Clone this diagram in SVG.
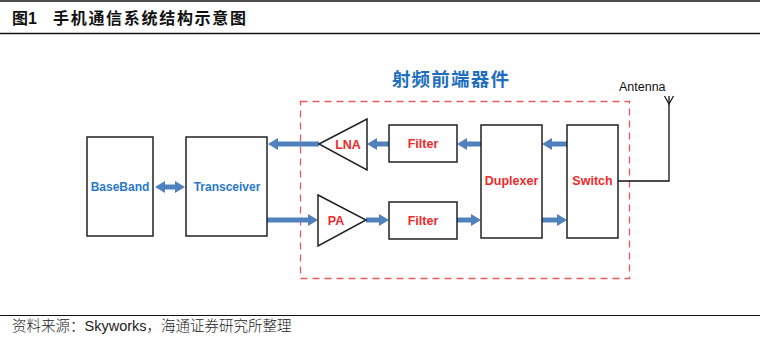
<svg xmlns="http://www.w3.org/2000/svg" width="760" height="338" viewBox="0 0 760 338">
<style>
.box{fill:#fff;stroke:#222;stroke-width:1.5}
.red{font-family:"Liberation Sans","Noto Sans",sans-serif;font-weight:bold;font-size:12.5px;fill:#ef2a2a;text-anchor:middle}
.blue{font-family:"Liberation Sans","Noto Sans",sans-serif;font-weight:bold;font-size:12px;fill:#2b78cc;text-anchor:middle}
.arr{stroke:#4f81bd;stroke-width:5;fill:none}
</style>
<defs>
<marker id="ah" markerUnits="userSpaceOnUse" markerWidth="10" markerHeight="12" refX="3" refY="6" orient="auto-start-reverse" viewBox="0 0 10 12">
<path d="M0,0 L10,6 L0,12 Z" fill="#4f81bd"/>
</marker>
</defs>
<rect width="760" height="338" fill="#fff"/>
<line x1="0" y1="1" x2="760" y2="1" stroke="#111" stroke-width="1.5"/>
<text x="12" y="24" font-family="'Noto Sans CJK SC','Liberation Sans',sans-serif" font-weight="bold" font-size="16" fill="#111">图<tspan font-family="'Liberation Sans',sans-serif">1</tspan><tspan x="53" letter-spacing="1.7">手机通信系统结构示意图</tspan></text>
<line x1="0" y1="33.5" x2="760" y2="33.5" stroke="#111" stroke-width="1.5"/>
<line x1="0" y1="315.5" x2="760" y2="315.5" stroke="#111" stroke-width="1"/>
<text x="12" y="331" font-family="'Liberation Sans','Noto Sans CJK SC',sans-serif" font-size="14.5" fill="#222"><tspan font-family="'Noto Sans CJK SC',sans-serif" font-weight="300">资料来源：</tspan>Skyworks<tspan font-family="'Noto Sans CJK SC',sans-serif" font-weight="300">，海通证券研究所整理</tspan></text>

<g id="frontend">
<rect x="300.5" y="101.5" width="329" height="177" fill="none" stroke="#e85a5a" stroke-width="1.3" stroke-dasharray="7,5"/>
<text x="451" y="86" font-family="'Noto Sans CJK SC',sans-serif" font-weight="bold" font-size="18.5" letter-spacing="1.2" fill="#1f6fc1" text-anchor="middle">射频前端器件</text>
</g>

<g id="connectors">
<line class="arr" x1="162" y1="187" x2="178" y2="187" marker-start="url(#ah)" marker-end="url(#ah)"/>
<line class="arr" x1="319" y1="144" x2="275" y2="144" marker-end="url(#ah)"/>
<line class="arr" x1="267" y1="220" x2="311" y2="220" marker-end="url(#ah)"/>
<line class="arr" x1="389" y1="144" x2="374" y2="144" marker-end="url(#ah)"/>
<line class="arr" x1="481" y1="144" x2="464" y2="144" marker-end="url(#ah)"/>
<line class="arr" x1="567" y1="144" x2="549" y2="144" marker-end="url(#ah)"/>
<line class="arr" x1="366" y1="220" x2="382" y2="220" marker-end="url(#ah)"/>
<line class="arr" x1="457" y1="220" x2="474" y2="220" marker-end="url(#ah)"/>
<line class="arr" x1="542" y1="220" x2="560" y2="220" marker-end="url(#ah)"/>
<polyline points="618,181 669,181 669,96" fill="none" stroke="#111" stroke-width="1.3"/>
</g>

<g id="antenna">
<path d="M664.5,96 L669,104 L673.5,96" fill="none" stroke="#111" stroke-width="1.2"/>
<text x="619" y="91" font-family="'Liberation Sans',sans-serif" font-size="12.5" fill="#111">Antenna</text>
</g>

<g id="baseband">
<rect class="box" x="87" y="137" width="66" height="99"/>
<text class="blue" x="120" y="191">BaseBand</text>
</g>
<g id="transceiver">
<rect class="box" x="186" y="137" width="81" height="99"/>
<text class="blue" x="227" y="191">Transceiver</text>
</g>
<g id="lna">
<polygon class="box" points="319,144 367,119 367,170"/>
<text class="red" x="348" y="149">LNA</text>
</g>
<g id="filter-rx">
<rect class="box" x="389" y="125" width="68" height="37"/>
<text class="red" x="423" y="148">Filter</text>
</g>
<g id="pa">
<polygon class="box" points="318,195 366,220 318,246"/>
<text class="red" x="336" y="225">PA</text>
</g>
<g id="filter-tx">
<rect class="box" x="389" y="202" width="68" height="37"/>
<text class="red" x="423" y="225">Filter</text>
</g>
<g id="duplexer">
<rect class="box" x="481" y="125" width="61" height="113"/>
<text class="red" x="511.5" y="185">Duplexer</text>
</g>
<g id="switch">
<rect class="box" x="567" y="125" width="51" height="113"/>
<text class="red" x="592.5" y="185">Switch</text>
</g>
</svg>
